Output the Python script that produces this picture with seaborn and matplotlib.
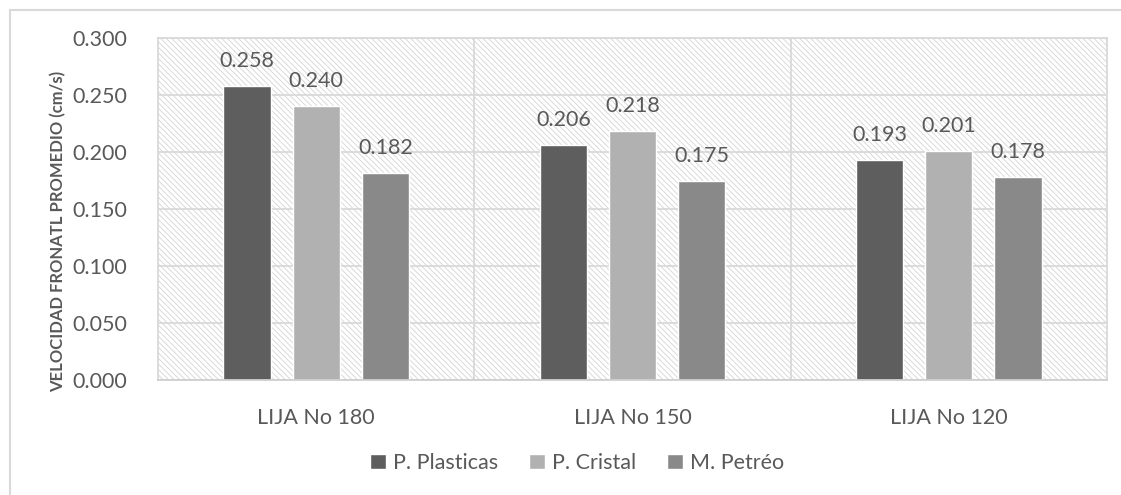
import matplotlib
matplotlib.use("Agg")
import matplotlib.pyplot as plt
from matplotlib.patches import Rectangle
from matplotlib.lines import Line2D
import pandas as pd
import seaborn as sns

# Data
categories = ["LIJA No 180", "LIJA No 150", "LIJA No 120"]
series = ["P. Plasticas", "P. Cristal", "M. Petréo"]
plasticas = [0.258, 0.206, 0.193]
cristal = [0.240, 0.218, 0.201]
petreo = [0.182, 0.175, 0.178]
yticks = [0.000, 0.050, 0.100, 0.150, 0.200, 0.250, 0.300]

colors = ["#5e5e5e", "#b1b1b1", "#898989"]
grid_c = "#d9d9d9"
text_c = "#595959"
fs = 15.5

df = pd.DataFrame({
    "categoria": categories * 3,
    "serie": [s for s in series for _ in categories],
    "valor": plasticas + cristal + petreo,
})

sns.set_theme(style="white")
plt.rcParams["font.family"] = ["Lato", "DejaVu Sans"]
plt.rcParams["hatch.linewidth"] = 0.6

fig = plt.figure(figsize=(11.21, 4.95), dpi=100)
ax = fig.add_axes([158 / 1121, 1 - 380 / 495, (1107 - 158) / 1121, (380 - 38) / 495])

# hatched plot background
ax.add_patch(Rectangle((0, 0), 1, 1, transform=ax.transAxes, facecolor="white",
                       edgecolor="#d4d4d4", hatch="\\" * 6, linewidth=0, zorder=0.2))

sns.barplot(data=df, x="categoria", y="valor", hue="serie", order=categories,
            hue_order=series, palette=colors, width=0.656, gap=0.32,
            saturation=1, ax=ax, legend=True, zorder=2)

ax.set_ylim(0, 0.3)
ax.set_xlim(-0.5, 2.5)
ax.set_yticks(yticks)
ax.set_yticklabels([f"{v:.3f}" for v in yticks])
ax.set_axisbelow(True)
ax.yaxis.grid(True, color=grid_c, linewidth=1.3)
for xv in [0.5, 1.5]:
    ax.axvline(xv, color=grid_c, linewidth=1.3, zorder=0.5)
for sp in ax.spines.values():
    sp.set_color(grid_c)
    sp.set_linewidth(1.3)
    sp.set_visible(True)
ax.spines["bottom"].set_color("#cfcfcf")

ax.tick_params(axis="both", length=0, labelsize=fs, colors=text_c)
ax.tick_params(axis="y", pad=22)
ax.tick_params(axis="x", pad=20)
ax.set_xlabel("")
ax.set_ylabel("VELOCIDAD FRONATL PROMEDIO (cm/s)", fontsize=12, fontweight="bold",
              color=text_c)
ax.yaxis.set_label_coords(-0.097, 0.433)

# value labels
for container in ax.containers:
    for bar in container:
        h = bar.get_height()
        ax.annotate(f"{h:.3f}", (bar.get_x() + bar.get_width() / 2, h),
                    xytext=(0, 18), textcoords="offset points",
                    ha="center", va="center", fontsize=fs, color=text_c)

handles, labels = ax.get_legend_handles_labels()
ax.get_legend().remove()
fig.legend(handles, labels, loc="center", bbox_to_anchor=(577 / 1121, 1 - 463 / 495),
           ncol=3, frameon=False, fontsize=fs, handlelength=0.75, handleheight=0.75,
           handletextpad=0.35, columnspacing=1.4, labelcolor=text_c)

# chart area border
fig.add_artist(Line2D([10 / 1121, 10 / 1121], [0, 1 - 10 / 495], color=grid_c,
                      linewidth=1.5, transform=fig.transFigure))
fig.add_artist(Line2D([10 / 1121, 1], [1 - 10 / 495, 1 - 10 / 495], color=grid_c,
                      linewidth=1.5, transform=fig.transFigure))

fig.savefig("out.png", dpi=100)
